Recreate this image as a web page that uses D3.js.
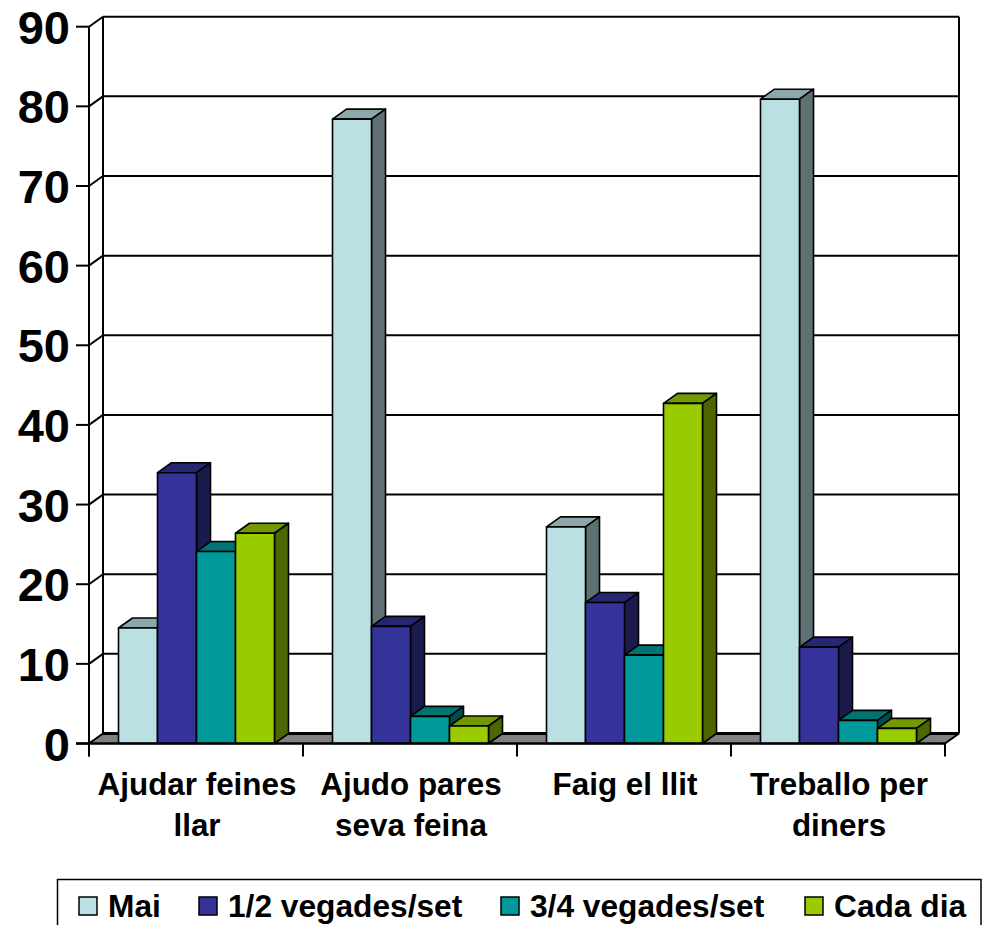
<!DOCTYPE html>
<html><head><meta charset="utf-8">
<script src="https://cdn.jsdelivr.net/npm/d3@7"></script>
<style>html,body{margin:0;padding:0;background:#fff;overflow:hidden}svg{display:block}text{font-family:"Liberation Sans",Arial,sans-serif;font-weight:bold;fill:#000}</style>
</head><body><svg id="c" width="982" height="925"></svg>
<script>
const categories = [["Ajudar feines","llar"],["Ajudo pares","seva feina"],["Faig el llit"],["Treballo per","diners"]];
const seriesNames = ["Mai","1/2 vegades/set","3/4 vegades/set","Cada dia"];
const mai = [14.5,78.4,27.2,80.9];
const vegades12 = [34.0,14.7,17.7,12.1];
const vegades34 = [24.1,3.4,11.1,2.9];
const cadaDia = [26.4,2.2,42.7,1.9];
const seriesValues = [mai,vegades12,vegades34,cadaDia];
const frontColors = ["#BBE0E3","#333399","#009999","#99CC00"];
const topColors = ["#8CA8AA","#262673","#007373","#739900"];
const sideColors = ["#5E7072","#1A1A4D","#004D4D","#4D6600"];
const yTicks = [0,10,20,30,40,50,60,70,80,90];

const svg = d3.select("#c");
const dx = 14, dy = -10;
const y = d3.scaleLinear().domain([0,90]).range([743.5,26.7]);
const x0 = d3.scaleBand().domain(d3.range(4)).range([89,945]);
const x1 = d3.scaleBand().domain(d3.range(4)).range([29.5,185.5]);
const base = y(0), L = x0.range()[0], R = x0.range()[1];
const stroke = (s,w=2)=>s.attr("stroke","#000").attr("stroke-width",w).attr("fill","none");

svg.append("polygon").attr("points",[[L,base],[L+dx,base+dy],[R+dx,base+dy],[R,base]].join(" ")).attr("fill","#808080");
yTicks.forEach(t=>{
  const yy=y(t);
  if(t>0) svg.append("line").attr("x1",L+dx).attr("x2",R+dx).attr("y1",yy+dy).attr("y2",yy+dy).call(stroke);
  svg.append("line").attr("x1",L).attr("x2",L+dx).attr("y1",yy).attr("y2",yy+dy).call(stroke);
  svg.append("line").attr("x1",L-13).attr("x2",L).attr("y1",yy).attr("y2",yy).call(stroke);
  svg.append("text").attr("x",70).attr("y",yy+17).attr("text-anchor","end").attr("font-size",47).text(t);
});
svg.append("line").attr("x1",L+dx).attr("x2",R+dx).attr("y1",base+dy).attr("y2",base+dy).call(stroke,3);
svg.append("line").attr("x1",L+dx).attr("x2",L+dx).attr("y1",y(90)+dy).attr("y2",base+dy).call(stroke);
svg.append("line").attr("x1",R+dx).attr("x2",R+dx).attr("y1",y(90)+dy).attr("y2",base+dy).call(stroke);
svg.append("line").attr("x1",L).attr("x2",L).attr("y1",y(90)).attr("y2",base+13).call(stroke);

categories.forEach((c,i)=>{
  seriesValues.forEach((vals,s)=>{
    const xa=x0(i)+x1(s), w=x1.bandwidth(), t=y(vals[i]);
    const g=svg.append("g").attr("stroke","#000").attr("stroke-width",1.6).attr("stroke-linejoin","round");
    g.append("polygon").attr("points",[[xa,t],[xa+dx,t+dy],[xa+w+dx,t+dy],[xa+w,t]].join(" ")).attr("fill",topColors[s]);
    g.append("polygon").attr("points",[[xa+w,t],[xa+w+dx,t+dy],[xa+w+dx,base+dy],[xa+w,base]].join(" ")).attr("fill",sideColors[s]);
    g.append("rect").attr("x",xa).attr("y",t).attr("width",w).attr("height",base-t).attr("fill",frontColors[s]);
  });
});

svg.append("line").attr("x1",L-13).attr("x2",R).attr("y1",base).attr("y2",base).call(stroke,2.5);
svg.append("line").attr("x1",R).attr("x2",R+dx).attr("y1",base).attr("y2",base+dy).call(stroke);
d3.range(5).forEach(i=>{
  const xx=i<4?x0(i):R;
  svg.append("line").attr("x1",xx).attr("x2",xx).attr("y1",base).attr("y2",base+13).call(stroke);
});
categories.forEach((c,i)=>{
  c.forEach((ln,j)=>{
    svg.append("text").attr("x",x0(i)+x0.bandwidth()/2+1).attr("y",795+j*41).attr("text-anchor","middle").attr("font-size",31.4).text(ln);
  });
});

svg.append("rect").attr("x",57.5).attr("y",879.5).attr("width",923.5).attr("height",100).attr("fill","#fff").attr("stroke","#000").attr("stroke-width",1.5);
const legendX=[79,199,501,805], textX=[108,228,530,834];
seriesNames.forEach((n,s)=>{
  svg.append("rect").attr("x",legendX[s]).attr("y",897).attr("width",18).attr("height",18).attr("fill",frontColors[s]).attr("stroke","#000").attr("stroke-width",1.5);
  svg.append("text").attr("x",textX[s]).attr("y",917).attr("font-size",31.7).text(n);
});
</script></body></html>
